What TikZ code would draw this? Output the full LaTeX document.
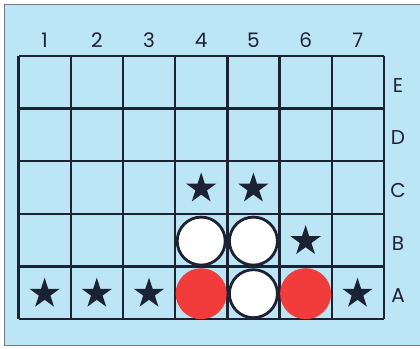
\documentclass[tikz,border=0pt]{standalone}
\usepackage{fontspec}
\setmainfont{Poppins}
\usetikzlibrary{shapes.geometric}
\definecolor{bgblue}{HTML}{BCE5F6}
\definecolor{ink}{HTML}{1B2233}
\definecolor{framegray}{HTML}{6E7A86}
\definecolor{pred}{HTML}{F23B3B}
\tikzset{
  gridline/.style={draw=ink, line width=2.4pt, line join=round},
  whitepiece/.style={circle, fill=white, draw=ink, line width=2.8pt, minimum size=48pt, inner sep=0pt},
  redpiece/.style={circle, fill=pred, draw=none, minimum size=51pt, inner sep=0pt},
  starmark/.style={star, star points=5, star point ratio=2.618, fill=ink, draw=none, minimum size=32pt, inner sep=0pt},
  lbl/.style={font=\fontsize{20}{21}\selectfont, text=ink, inner sep=0pt}
}
\begin{document}
\begin{tikzpicture}[x=1pt,y=-1pt]
\useasboundingbox (0,0) rectangle (420,348);
\fill[white] (0,0) rectangle (420,348);
\begin{scope}
\clip (0,0) rectangle (420,348);
\filldraw[fill=bgblue, draw=framegray, line width=1.6pt] (4.5,4.5) rectangle (430,345.5);
\end{scope}
% grid
\foreach \i in {0,...,7} {
  \draw[gridline] ({18.5+52.2*\i},56) -- ({18.5+52.2*\i},319);
}
\foreach \j in {0,...,5} {
  \draw[gridline] (18.5,{56+52.6*\j}) -- (383.9,{56+52.6*\j});
}
% column labels
\foreach \i in {1,...,7} {
  \node[lbl] (col\i) at ({18.5+52.2*(\i-0.5)},40) {\i};
}
% row labels
\foreach \r/\k in {E/1,D/2,C/3,B/4,A/5} {
  \node[lbl] (row\r) at (398,{56+52.6*(\k-0.5)+3}) {\r};
}
% stars
\node[starmark] (sA1) at (44.6,293.7) {};
\node[starmark] (sA2) at (96.8,293.7) {};
\node[starmark] (sA3) at (149.0,293.7) {};
\node[starmark] (sA7) at (357.5,293.7) {};
\node[starmark] (sC4) at (201.2,188.5) {};
\node[starmark] (sC5) at (253.4,188.5) {};
\node[starmark] (sB6) at (305.6,241.1) {};
% pieces
\node[whitepiece] (pB4) at (201.2,241.1) {};
\node[whitepiece] (pB5) at (253.4,241.1) {};
\node[whitepiece] (pA5) at (253.4,293.7) {};
\node[redpiece] (pA4) at (201.2,293.7) {};
\node[redpiece] (pA6) at (305.6,293.7) {};
\end{tikzpicture}
\end{document}
